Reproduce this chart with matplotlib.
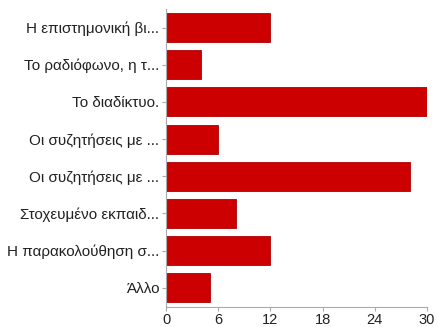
import matplotlib
matplotlib.use("Agg")
import matplotlib.pyplot as plt

categories = [
    "Η επιστημονική βι...",
    "Το ραδιόφωνο, η τ...",
    "Το διαδίκτυο.",
    "Οι συζητήσεις με ...",
    "Οι συζητήσεις με ...",
    "Στοχευμένο εκπαιδ...",
    "Η παρακολούθηση σ...",
    "Άλλο",
]
values = [12, 4, 30, 6, 28, 8, 12, 5]
xticks = [0, 6, 12, 18, 24, 30]

plt.rcParams['font.family'] = ['Liberation Sans', 'DejaVu Sans']

fig = plt.figure(figsize=(4.36, 3.27), dpi=100)
ax = fig.add_axes([166/436, 1 - 307/327, (427-166)/436, (307-9)/327])

ypos = list(range(len(categories)))
ax.barh(ypos, values, height=0.78, color='#cc0000', edgecolor='#b00000', linewidth=0.6)

ax.set_ylim(7.52, -0.5)
ax.set_xlim(0, 30)
ax.set_yticks(ypos)
ax.set_yticklabels(categories)
ax.set_xticks(xticks)
ax.set_xticklabels([str(t) for t in xticks])

for s in ['top', 'right']:
    ax.spines[s].set_visible(False)
for s in ['left', 'bottom']:
    ax.spines[s].set_color('#aaaaaa')
    ax.spines[s].set_linewidth(0.8)

ax.tick_params(axis='y', length=3, color='#aaaaaa', labelsize=11, labelcolor='#222222', pad=2)
ax.tick_params(axis='x', length=3, color='#aaaaaa', labelsize=10.5, labelcolor='#222222', pad=1.5)

fig.savefig("out.png", dpi=100)
